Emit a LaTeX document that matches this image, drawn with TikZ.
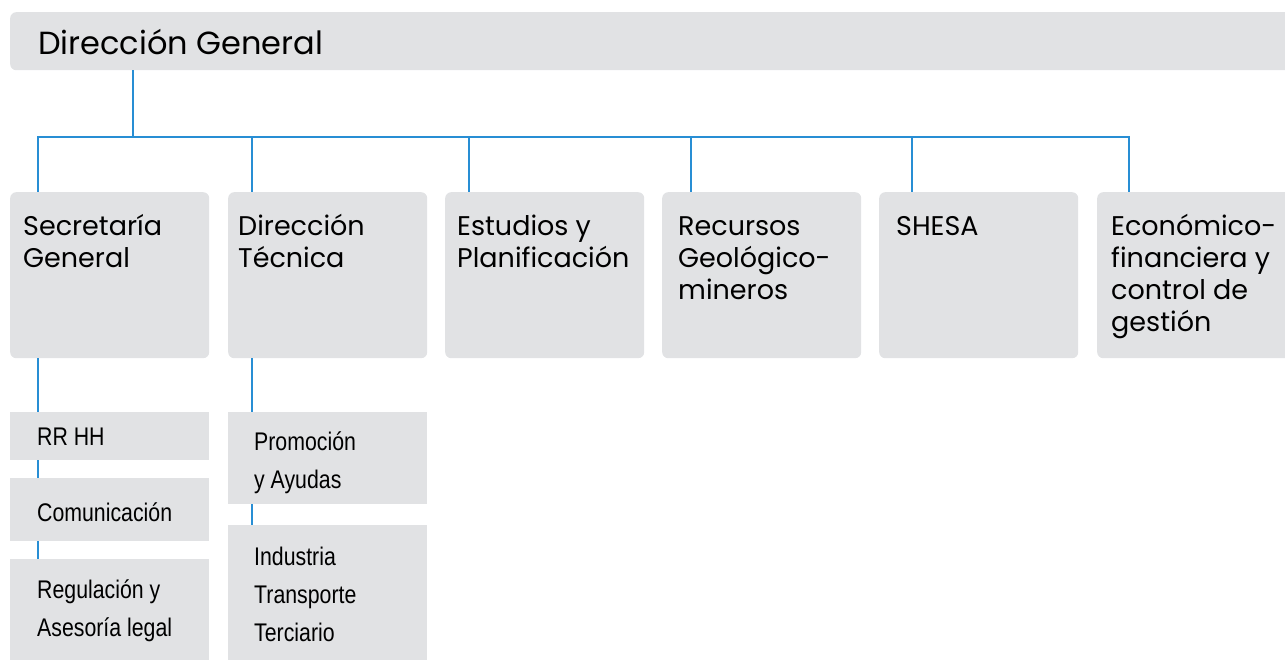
\documentclass[tikz,border=0pt]{standalone}
\usepackage{fontspec}
\setmainfont{Poppins}
\newfontfamily\narrowfont[FakeStretch=0.835]{Liberation Sans}
\definecolor{boxgray}{RGB}{225,226,228}
\definecolor{linkblue}{RGB}{40,142,212}
\newcommand{\boxtext}[1]{\begin{tabular}[t]{@{}l@{}}#1\end{tabular}}

\begin{document}
\begin{tikzpicture}[x=1pt,y=-1pt,
    box/.style={fill=boxgray,rounded corners=6pt,anchor=north west,inner sep=0pt,minimum width=199pt,minimum height=166pt},
    subbox/.style={fill=boxgray,anchor=north west,inner sep=0pt,minimum width=199pt},
    link/.style={draw=linkblue,line width=2.8pt},
    head/.style={anchor=base west,inner sep=0pt,font=\fontsize{27}{32}\selectfont},
    sublbl/.style={anchor=base west,inner sep=0pt,font=\narrowfont\fontsize{25.5}{38}\selectfont}]
    \useasboundingbox (0,0) rectangle (1285,660);

    % direccion general
    \node[box,minimum width=1290pt,minimum height=58pt] (dg) at (10,12) {};
    \node[anchor=base west,inner sep=0pt,font=\fontsize{32}{38}\selectfont] (dgt) at ([xshift=28pt,yshift=-43pt]dg.north west) {Dirección General};

    % areas
    \node[box] (sg) at (10,192) {};
    \node[box] (dt) at (228,192) {};
    \node[box] (ep) at (445,192) {};
    \node[box] (rg) at (662,192) {};
    \node[box] (sh) at (879,192) {};
    \node[box] (ef) at (1097,192) {};

    \node[head] at ([xshift=13pt,yshift=-44pt]sg.north west) {\boxtext{Secretaría\\General}};
    \node[head] at ([xshift=10pt,yshift=-44pt]dt.north west) {\boxtext{Dirección\\Técnica}};
    \node[head] at ([xshift=12pt,yshift=-44pt]ep.north west) {\boxtext{Estudios y\\Planificación}};
    \node[head] at ([xshift=16pt,yshift=-44pt]rg.north west) {\boxtext{Recursos\\Geológico-\\mineros}};
    \node[head] at ([xshift=17pt,yshift=-44pt]sh.north west) {\boxtext{SHESA}};
    \node[head] at ([xshift=14pt,yshift=-44pt]ef.north west) {\boxtext{Económico-\\financiera y\\control de\\gestión}};

    % links
    \draw[link] ([xshift=123pt]dg.south west) -- ++(0,67);
    \draw[link] ([xshift=28pt]sg.north west) -- ++(0,-55) -| ([xshift=32pt]ef.north west);
    \draw[link] ([xshift=24pt]dt.north west) -- ++(0,-55);
    \draw[link] ([xshift=24pt]ep.north west) -- ++(0,-55);
    \draw[link] ([xshift=29pt]rg.north west) -- ++(0,-55);
    \draw[link] ([xshift=33pt]sh.north west) -- ++(0,-55);

    % secretaria general
    \node[subbox,minimum height=48pt] (rr) at (10,412) {};
    \node[subbox,minimum height=63pt] (co) at (10,478) {};
    \node[subbox,minimum height=110pt] (re) at (10,559) {};
    \node[sublbl] at ([xshift=27pt,yshift=-33pt]rr.north west) {\boxtext{RR HH}};
    \node[sublbl] at ([xshift=27pt,yshift=-43pt]co.north west) {\boxtext{Comunicación}};
    \node[sublbl] at ([xshift=27pt,yshift=-39pt]re.north west) {\boxtext{Regulación y\\Asesoría legal}};
    \draw[link] ([xshift=28pt]sg.south west) -- ([xshift=28pt]rr.north west);
    \draw[link] ([xshift=28pt]rr.south west) -- ([xshift=28pt]co.north west);
    \draw[link] ([xshift=28pt]co.south west) -- ([xshift=28pt]re.north west);

    % direccion tecnica
    \node[subbox,minimum height=92pt] (pa) at (228,412) {};
    \node[subbox,minimum height=140pt] (it) at (228,525) {};
    \node[sublbl] at ([xshift=26pt,yshift=-38pt]pa.north west) {\boxtext{Promoción\\y Ayudas}};
    \node[sublbl] at ([xshift=26pt,yshift=-40pt]it.north west) {\boxtext{Industria\\Transporte\\Terciario}};
    \draw[link] ([xshift=24pt]dt.south west) -- ([xshift=24pt]pa.north west);
    \draw[link] ([xshift=24pt]pa.south west) -- ([xshift=24pt]it.north west);
\end{tikzpicture}
\end{document}
